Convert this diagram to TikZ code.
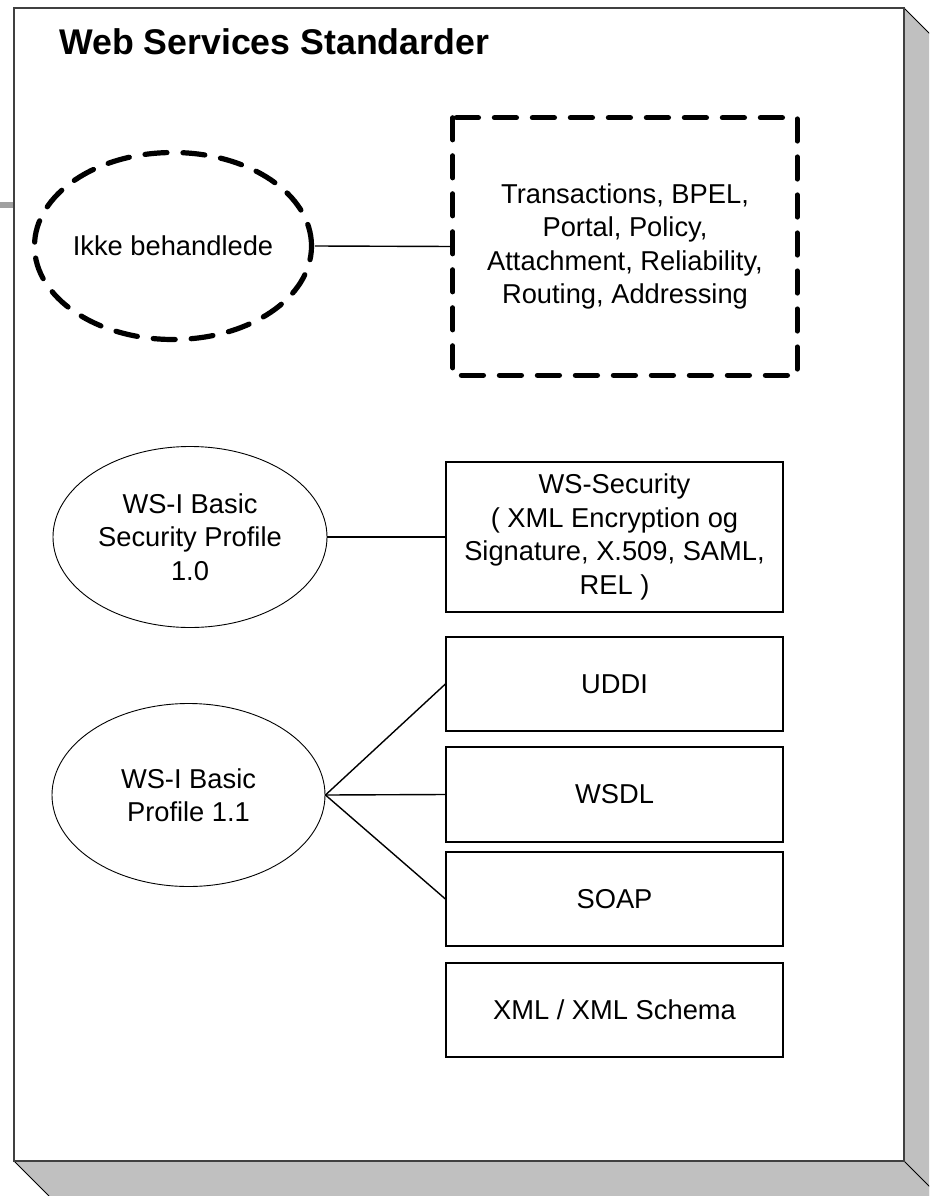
\documentclass[tikz,border=0pt]{standalone}
\usepackage{fontspec}
\setmainfont{Liberation Sans}
\usetikzlibrary{shapes.geometric}
\definecolor{shadowgray}{HTML}{C0C0C0}
\definecolor{pageborder}{HTML}{404040}
\definecolor{stubgray}{HTML}{A0A0A0}
\tikzset{
  txt/.style={font=\fontsize{27.3}{33.5}\selectfont, align=center, inner sep=0pt},
  stdbox/.style={txt, draw=black, line width=1.2pt, minimum width=337pt},
  stdell/.style={txt, ellipse, draw=black, line width=0.9pt},
  dashy/.style={line width=5.2pt, line cap=round, line join=round, dash pattern=on 22pt off 16pt},
  conn/.style={draw=black, line width=1.4pt}
}
\begin{document}
\begin{tikzpicture}[x=1pt, y=-1pt]
\useasboundingbox (0,0) rectangle (929,1196);
\clip (0,0) rectangle (929,1196);
% 3D page shadow
\fill[shadowgray] (904,8) -- (939,43) -- (939,1231) -- (904,1161) -- cycle;
\fill[shadowgray] (14,1161) -- (904,1161) -- (939,1196) -- (49,1196) -- cycle;
\draw[black, line width=0.8pt] (904,8) -- (939,43);
\draw[black, line width=0.8pt] (14,1161) -- (49,1196);
\draw[black, line width=0.8pt] (904,1161) -- (939,1196);
% stub at left
\fill[stubgray] (0,202) rectangle (14,208);
% page
\draw[fill=white, draw=pageborder, line width=1.6pt] (14,8) rectangle (904,1161);
% title
\node[anchor=base west, inner sep=0pt, font=\bfseries\fontsize{35.7}{40}\selectfont] (title) at (59,55) {Web Services Standarder};
% nodes
\node[txt, ellipse, minimum width=277pt, minimum height=187pt] (ikke) at (173,246) {Ikke behandlede};
\draw[dashy] (ikke.center) ellipse [x radius=138.5pt, y radius=93.5pt];
\node[txt, minimum width=344pt, minimum height=257pt] (trans) at (625,246.5) {Transactions, BPEL,\\Portal, Policy,\\Attachment, Reliability,\\Routing, Addressing};
\draw[dashy] (trans.north west) rectangle (trans.south east);
\node[stdell, minimum width=274pt, minimum height=181pt] (sec) at (190,537) {WS-I Basic\\Security Profile\\1.0};
\node[stdbox, minimum height=150pt] (wssec) at (614.5,537) {WS-Security\\( XML Encryption og\\Signature, X.509, SAML,\\REL )};
\node[stdbox, minimum height=94pt] (uddi) at (614.5,684) {UDDI};
\node[stdbox, minimum height=95pt] (wsdl) at (614.5,794.5) {WSDL};
\node[stdbox, minimum height=94pt] (soap) at (614.5,899) {SOAP};
\node[stdbox, minimum height=94pt] (xml) at (614.5,1010) {XML / XML Schema};
\node[stdell, minimum width=273pt, minimum height=183pt] (bp) at (188.5,795) {WS-I Basic\\Profile 1.1};
% connectors
\draw[conn] (ikke.east) -- (trans.west);
\draw[conn] (sec.east) -- (wssec.west);
\draw[conn] (bp.east) -- (uddi.west);
\draw[conn] (bp.east) -- (wsdl.west);
\draw[conn] (bp.east) -- (soap.west);
\end{tikzpicture}
\end{document}
